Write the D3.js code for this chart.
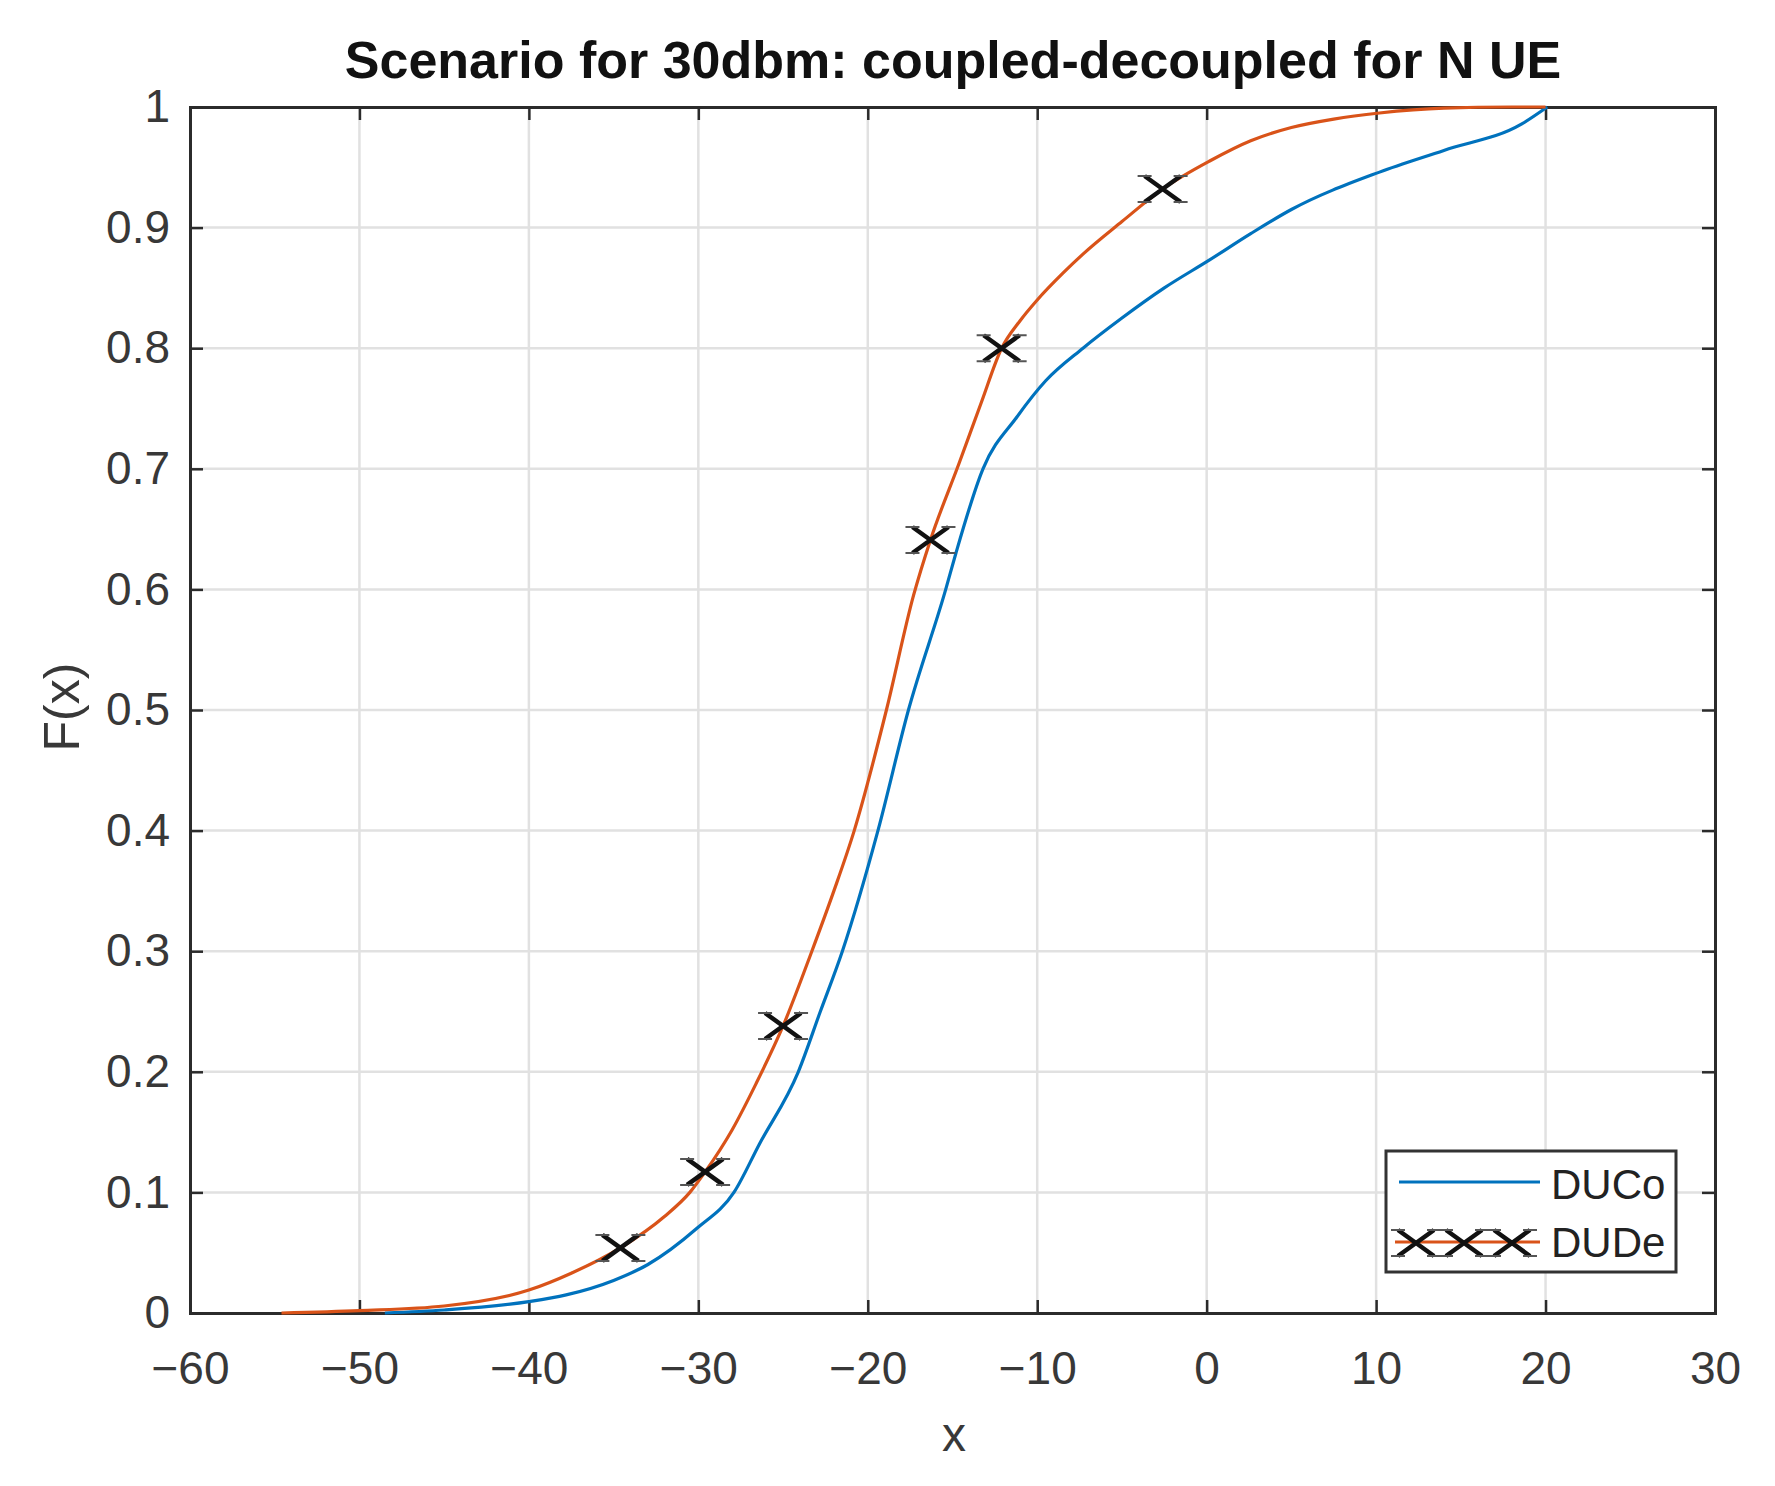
<!DOCTYPE html>
<html>
<head>
<meta charset="utf-8">
<script src="https://cdn.jsdelivr.net/npm/d3@7"></script>
<style>
body { margin: 0; background: #fff; }
text { font-family: "Liberation Sans", Arial, Helvetica, sans-serif; }
</style>
</head>
<body>
<div id="main_div"></div>
<script>
// values
var x_ticks = [-60, -50, -40, -30, -20, -10, 0, 10, 20, 30];
var y_ticks = [0, 0.1, 0.2, 0.3, 0.4, 0.5, 0.6, 0.7, 0.8, 0.9, 1];

var duco_x = [-48.5, -45, -40, -37.8, -35, -33, -30.1, -27.9, -26.4, -24.1, -22.8, -21.5, -19.4, -17.6, -15.4, -14.8, -13.2, -11.2, -9.5, -7.3, -5, -2.5, 0.15, 2.6, 5, 10.2, 14, 18.6, 20.1];
var duco_y = [0, 0.0025, 0.0094, 0.015, 0.027, 0.04, 0.07, 0.1, 0.14, 0.2, 0.25, 0.3, 0.4, 0.5, 0.6, 0.63, 0.7, 0.743, 0.773, 0.8, 0.825, 0.85, 0.873, 0.895, 0.915, 0.946, 0.964, 0.986, 1];

var dude_x = [-54.6, -50, -45, -40, -37.5, -34.6, -32, -30.5, -29.6, -28, -26.6, -25, -23.3, -22, -20.8, -18.9, -17.3, -16.3, -14.6, -13.3, -12.1, -11, -10, -8.5, -7.3, -5, -2.6, 0.15, 2.6, 5, 7.5, 10.2, 14, 18, 20];
var dude_y = [0, 0.002, 0.0058, 0.019, 0.033, 0.054, 0.08, 0.1, 0.117, 0.152, 0.19, 0.238, 0.3, 0.35, 0.4, 0.5, 0.595, 0.641, 0.705, 0.755, 0.8, 0.823, 0.84, 0.862, 0.878, 0.905, 0.932, 0.955, 0.972, 0.983, 0.99, 0.995, 0.999, 1, 1];

var mark_x = [-34.6, -29.6, -25, -16.3, -12.1, -2.6];
var mark_y = [0.054, 0.117, 0.238, 0.641, 0.8, 0.932];

var series_names = ["DUCo", "DUDe"];
var series_colors = ["#0072bd", "#d95319"];

var W = 1775, H = 1486;
var p_left = 190, p_right = 1715, p_top = 107, p_bottom = 1313;

var x_scale = d3.scaleLinear().domain([-60, 30]).range([p_left, p_right]);
var y_scale = d3.scaleLinear().domain([0, 1]).range([p_bottom, p_top]);

var svg = d3.select("#main_div").append("svg").attr("width", W).attr("height", H);

// grid
var grid = svg.append("g").attr("class", "grid");
grid.selectAll("line.gx").data(x_ticks.slice(1, -1)).enter().append("line")
    .attr("x1", function(d) { return x_scale(d); }).attr("x2", function(d) { return x_scale(d); })
    .attr("y1", p_top).attr("y2", p_bottom)
    .attr("stroke", "#e1e1e1").attr("stroke-width", 2.5);
grid.selectAll("line.gy").data(y_ticks.slice(1, -1)).enter().append("line")
    .attr("y1", function(d) { return y_scale(d); }).attr("y2", function(d) { return y_scale(d); })
    .attr("x1", p_left).attr("x2", p_right)
    .attr("stroke", "#e1e1e1").attr("stroke-width", 2.5);

// axes, ticks pointing inward
var fmt = d3.format("~g");
var g_x = svg.append("g").attr("transform", "translate(0," + p_bottom + ")")
    .call(d3.axisBottom(x_scale).tickValues(x_ticks).tickSize(-13).tickPadding(38));
var g_x2 = svg.append("g").attr("transform", "translate(0," + p_top + ")")
    .call(d3.axisTop(x_scale).tickValues(x_ticks).tickSize(-13).tickFormat(""));
var g_y = svg.append("g").attr("transform", "translate(" + p_left + ",0)")
    .call(d3.axisLeft(y_scale).tickValues(y_ticks).tickSize(-13).tickPadding(20).tickFormat(fmt));
var g_y2 = svg.append("g").attr("transform", "translate(" + p_right + ",0)")
    .call(d3.axisRight(y_scale).tickValues(y_ticks).tickSize(-13).tickFormat(""));

[g_x, g_x2, g_y, g_y2].forEach(function(g) {
    g.select(".domain").attr("stroke", "#2b2b2b").attr("stroke-width", 3);
    g.selectAll(".tick line").attr("stroke", "#2b2b2b").attr("stroke-width", 2.5);
    g.selectAll(".tick text").attr("font-size", 46).attr("fill", "#383838");
});
g_x.selectAll(".tick text").attr("dy", "0.71em");

// curves
var line = d3.line()
    .x(function(d) { return x_scale(d[0]); })
    .y(function(d) { return y_scale(d[1]); })
    .curve(d3.curveMonotoneX);

var duco = duco_x.map(function(v, i) { return [v, duco_y[i]]; });
var dude = dude_x.map(function(v, i) { return [v, dude_y[i]]; });

svg.append("path").datum(duco).attr("d", line)
    .attr("fill", "none").attr("stroke", series_colors[0]).attr("stroke-width", 3.2);
svg.append("path").datum(dude).attr("d", line)
    .attr("fill", "none").attr("stroke", series_colors[1]).attr("stroke-width", 3.2);

// x marker, a bit wide with short end bars like the picture
function xmark(g, cx, cy) {
    var w = 18, h = 13, s = 7;
    g.append("path")
        .attr("d", "M" + (cx - w) + "," + (cy - h) + "L" + (cx + w) + "," + (cy + h) +
            "M" + (cx - w) + "," + (cy + h) + "L" + (cx + w) + "," + (cy - h))
        .attr("stroke", "#111").attr("stroke-width", 4.5).attr("fill", "none");
    g.append("path")
        .attr("d", "M" + (cx - w - s) + "," + (cy - h) + "h" + (2 * s) +
            "M" + (cx + w - s) + "," + (cy - h) + "h" + (2 * s) +
            "M" + (cx - w - s) + "," + (cy + h) + "h" + (2 * s) +
            "M" + (cx + w - s) + "," + (cy + h) + "h" + (2 * s))
        .attr("stroke", "#555").attr("stroke-width", 2).attr("fill", "none");
}

var marks = svg.append("g");
mark_x.forEach(function(v, i) {
    xmark(marks, x_scale(v), y_scale(mark_y[i]));
});

// legend
var lg = svg.append("g");
lg.append("rect").attr("x", 1386).attr("y", 1151).attr("width", 290).attr("height", 121)
    .attr("fill", "#fff").attr("stroke", "#333").attr("stroke-width", 3);
lg.append("line").attr("x1", 1399).attr("x2", 1540).attr("y1", 1182).attr("y2", 1182)
    .attr("stroke", series_colors[0]).attr("stroke-width", 3.2);
lg.append("line").attr("x1", 1395).attr("x2", 1540).attr("y1", 1242).attr("y2", 1242)
    .attr("stroke", series_colors[1]).attr("stroke-width", 3.2);
[1416, 1464, 1512].forEach(function(cx) { xmark(lg, cx, 1243); });
lg.selectAll("text").data(series_names).enter().append("text")
    .attr("x", 1551).attr("y", function(d, i) { return 1184 + i * 58; })
    .attr("dy", "0.36em").attr("font-size", 42).attr("fill", "#222")
    .text(function(d) { return d; });

// titles
svg.append("text").attr("x", 953).attr("y", 78).attr("text-anchor", "middle")
    .attr("font-size", 52).attr("font-weight", "bold").attr("fill", "#111")
    .text("Scenario for 30dbm: coupled-decoupled for N UE");
svg.append("text").attr("x", 954).attr("y", 1451).attr("text-anchor", "middle")
    .attr("font-size", 48).attr("fill", "#383838").text("x");
svg.append("text").attr("transform", "translate(79,707) rotate(-90)").attr("text-anchor", "middle")
    .attr("font-size", 50).attr("fill", "#383838").text("F(x)");
</script>
</body>
</html>
